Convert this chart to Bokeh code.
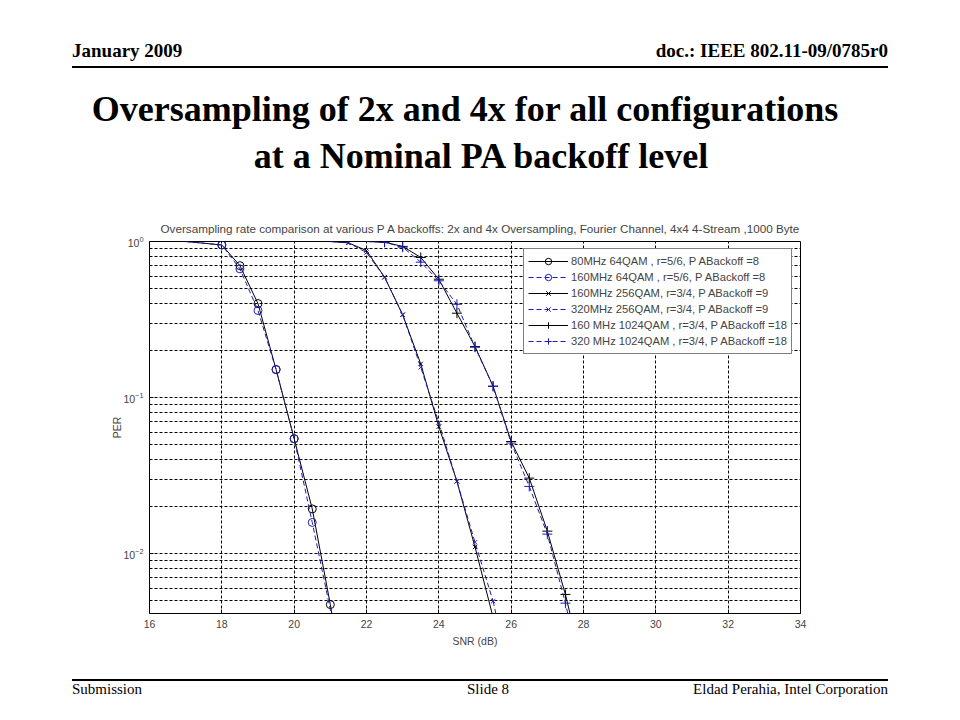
from bokeh.plotting import figure
from bokeh.layouts import column
from bokeh.models import (ColumnDataSource, Legend, LegendItem, FixedTicker, Div,
                          SingleIntervalTicker, CDSView, BooleanFilter, Range1d)
from bokeh.embed import file_html
from bokeh.resources import INLINE

# ---------------- data ----------------
snr_64qam = [17.0, 18.0, 18.5, 19.0, 19.5, 20.0, 20.5, 21.0, 21.5]
per_80mhz_64qam = [1.0, 0.95, 0.70, 0.40, 0.151, 0.0544, 0.0193, 0.0047, 0.0009]
per_160mhz_64qam = [1.0, 0.95, 0.668, 0.361, 0.151, 0.0544, 0.0158, 0.00435, 0.0008]

snr_256qam = [21.0, 21.5, 22.0, 22.5, 23.0, 23.5, 24.0, 24.5, 25.0, 25.5]
per_160mhz_256qam = [1.0, 0.98, 0.875, 0.59, 0.339, 0.164, 0.065, 0.029, 0.011, 0.0039]
per_320mhz_256qam = [1.0, 0.98, 0.85, 0.59, 0.34, 0.156, 0.069, 0.029, 0.0118, 0.00494]
snr_256qam_tail = [25.5, 26.0]
per_320mhz_256qam_tail = [0.00494, 0.0015]

snr_1024qam = [22.0, 22.5, 23.0, 23.5, 24.0, 24.5, 25.0, 25.5, 26.0, 26.5, 27.0, 27.5, 28.0]
per_160mhz_1024qam = [1.0, 0.99, 0.93, 0.79, 0.573, 0.347, 0.212, 0.118, 0.0522, 0.0304, 0.0139, 0.00546, 0.0018]
per_320mhz_1024qam = [1.0, 0.99, 0.92, 0.737, 0.56, 0.396, 0.21, 0.118, 0.051, 0.0269, 0.0133, 0.0048, 0.0015]

labels = [
    "80MHz 64QAM , r=5/6, P ABackoff =8",
    "160MHz 64QAM , r=5/6, P ABackoff =8",
    "160MHz 256QAM, r=3/4, P ABackoff =9",
    "320MHz 256QAM, r=3/4, P ABackoff =9",
    "160 MHz 1024QAM , r=3/4, P ABackoff =18",
    "320 MHz 1024QAM , r=3/4, P ABackoff =18",
]

y_major = [0.01, 0.1, 1.0]
y_minor = [k * d for d in (0.001, 0.01, 0.1) for k in range(2, 10)]

plot_title = ("Oversampling rate comparison at various P A backoffs: 2x and 4x Oversampling,  "
              "Fourier Channel, 4x4 4-Stream ,1000 Byte")
header_left = "January 2009"
header_right = "doc.: IEEE 802.11-09/0785r0"
slide_title = ["Oversampling of 2x and 4x for all configurations",
               "at a Nominal PA backoff level"]
footer = ["Submission", "Slide 8", "Eldad Perahia, Intel Corporation"]

BLUE = "#1c1cb4"
FONT = "Liberation Sans"
W = 960

# ---------------- slide header (HTML) ----------------
TOP_H = 208
SER = ("font-family:'Liberation Serif','Times New Roman',serif;color:#000;line-height:1;"
       "white-space:nowrap;position:absolute;")
top_html = (
    f'<div style="position:relative;width:{W}px;height:{TOP_H}px;background:#fff;">'
    f'<div style="{SER}left:72px;top:41px;font-size:19px;font-weight:bold;">{header_left}</div>'
    f'<div style="{SER}right:72px;top:41px;font-size:19px;font-weight:bold;">{header_right}</div>'
    f'<div style="position:absolute;left:72px;top:66px;width:816px;height:1.5px;background:#000;"></div>'
    f'<div style="{SER}left:465px;top:91px;font-size:36px;font-weight:bold;transform:translateX(-50%);">{slide_title[0]}</div>'
    f'<div style="{SER}left:481px;top:138px;font-size:36px;font-weight:bold;transform:translateX(-50%);">{slide_title[1]}</div>'
    '</div>'
)
top = Div(text=top_html, width=W, height=TOP_H, margin=0)

# ---------------- chart ----------------
CH_H = 452
p = figure(width=W, height=CH_H, x_range=Range1d(16, 34), y_range=Range1d(0.00412, 1.0),
           y_axis_type="log", output_backend="svg", toolbar_location=None,
           min_border_left=149, min_border_right=160, min_border_top=33, min_border_bottom=47,
           title=plot_title, margin=0)
p.background_fill_color = "white"
p.border_fill_color = "white"
p.outline_line_color = "black"
p.outline_line_width = 1

p.title.align = "left"
p.title.offset = 11
p.title.text_font = FONT
p.title.text_font_size = "11.7px"
p.title.text_font_style = "normal"
p.title.standoff = 13

p.xaxis.ticker = SingleIntervalTicker(interval=2)
p.xaxis.axis_label = "SNR (dB)"
p.yaxis.ticker = FixedTicker(ticks=y_major, minor_ticks=y_minor)
p.yaxis.axis_label = "PER"
for ax in (p.xaxis[0], p.yaxis[0]):
    ax.axis_line_color = None
    ax.major_tick_in = 4
    ax.major_tick_out = 0
    ax.minor_tick_in = 2
    ax.minor_tick_out = 0
    ax.major_label_text_font = FONT
    ax.major_label_text_font_size = "10.5px"
    ax.axis_label_text_font = FONT
    ax.axis_label_text_font_size = "10.5px"
    ax.axis_label_text_font_style = "normal"
p.xaxis.minor_tick_line_color = None
p.xaxis.major_label_standoff = 6
p.xaxis.axis_label_standoff = 4
p.yaxis.major_label_standoff = 6
p.yaxis.axis_label_standoff = -3

p.xgrid.ticker = SingleIntervalTicker(interval=2)
p.xgrid.grid_line_color = "black"
p.xgrid.grid_line_dash = "3 2"
p.ygrid.ticker = FixedTicker(ticks=y_major, minor_ticks=y_minor)
p.ygrid.grid_line_color = "black"
p.ygrid.grid_line_dash = "3 2"
p.ygrid.minor_grid_line_color = "black"
p.ygrid.minor_grid_line_dash = "3 2"

series = [
    (snr_64qam, per_80mhz_64qam, "black", "solid", "circle", 8),
    (snr_64qam, per_160mhz_64qam, BLUE, "5 3", "circle", 8),
    (snr_256qam, per_160mhz_256qam, "black", "solid", "x", 6),
    (snr_256qam, per_320mhz_256qam, BLUE, "5 3", "x", 6),
    (snr_1024qam, per_160mhz_1024qam, "black", "solid", "cross", 10),
    (snr_1024qam, per_320mhz_1024qam, BLUE, "5 3", "cross", 10),
]

items = []
for (xs, ys, col, dash, mk, sz), lab in zip(series, labels):
    src = ColumnDataSource(dict(x=xs, y=ys))
    ln = p.line("x", "y", source=src, line_color=col, line_dash=dash, line_width=1)
    mask = [0.0045 < v < 1.0 for v in ys]
    sc = p.scatter("x", "y", source=src, view=CDSView(filter=BooleanFilter(mask)),
                   marker=mk, size=sz, line_color=col, fill_color=None, line_width=1)
    items.append(LegendItem(label=lab, renderers=[ln, sc]))

p.line(snr_256qam_tail, per_320mhz_256qam_tail, line_color=BLUE, line_dash="5 3", line_width=1)

legend = Legend(items=items, location=(374, 259))
legend.border_line_color = "black"
legend.border_line_width = 1
legend.background_fill_color = "white"
legend.background_fill_alpha = 1
legend.label_text_font = FONT
legend.label_text_font_size = "11.2px"
legend.glyph_width = 40
legend.glyph_height = 16
legend.label_height = 16
legend.label_standoff = 3
legend.spacing = 0
legend.padding = 4
legend.margin = 0
p.add_layout(legend, "center")

# ---------------- slide footer (HTML) ----------------
BOT_H = 58
bot_html = (
    f'<div style="position:relative;width:{W}px;height:{BOT_H}px;background:#fff;">'
    f'<div style="position:absolute;left:72px;top:19px;width:816px;height:1.5px;background:#000;"></div>'
    f'<div style="{SER}left:72px;top:22px;font-size:15px;">{footer[0]}</div>'
    f'<div style="{SER}left:488px;top:22px;font-size:15px;transform:translateX(-50%);">{footer[1]}</div>'
    f'<div style="{SER}right:72px;top:22px;font-size:15px;">{footer[2]}</div>'
    '</div>'
)
bot = Div(text=bot_html, width=W, height=BOT_H, margin=0)

page = column(top, p, bot, spacing=0)
open("out.html", "w").write(file_html(page, INLINE))
